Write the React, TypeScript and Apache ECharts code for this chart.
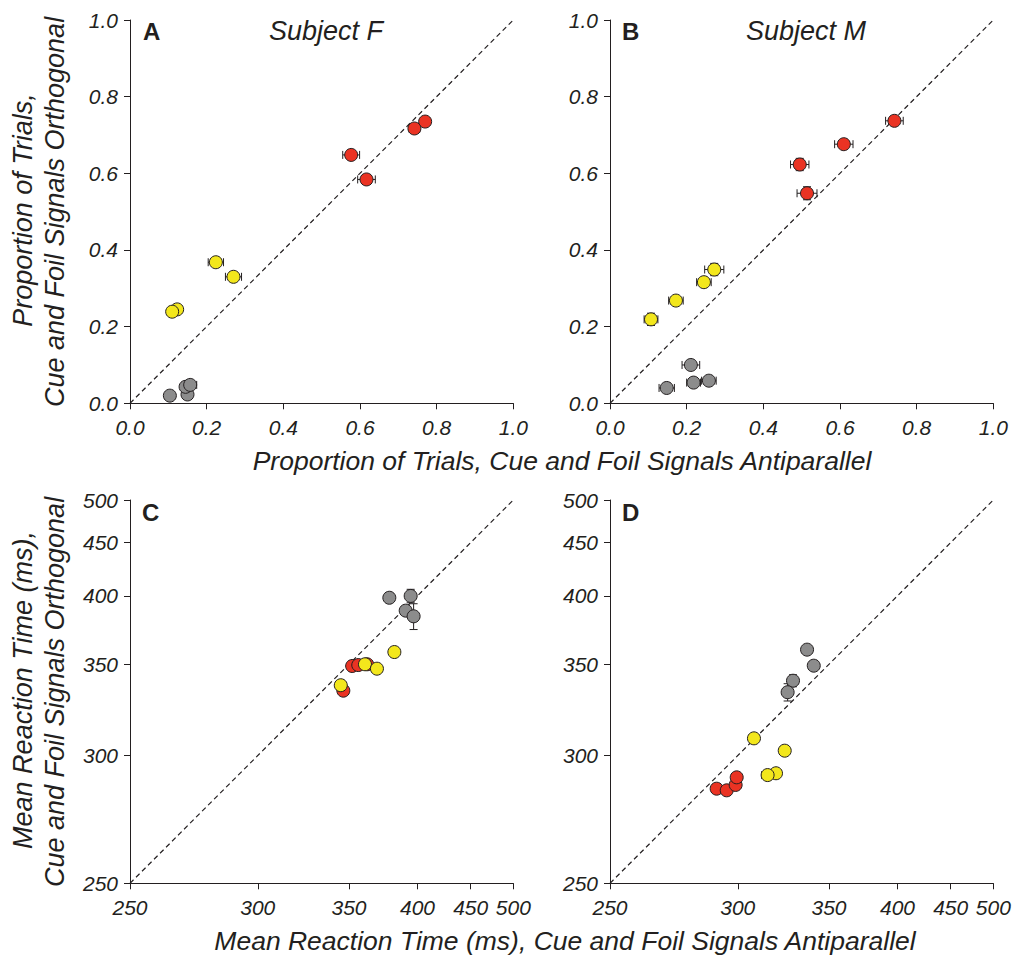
import React, { useEffect, useRef } from "react";
import * as echarts from "echarts";

// Each point: [antiparallel, orthogonal, errAntiparallel, errOrthogonal]
type Pt = [number, number, number, number];

// Proportion of trials – Subject F
const propF_gray: Pt[] = [
  [0.104, 0.020, 0, 0],
  [0.150, 0.023, 0, 0],
  [0.145, 0.043, 0, 0],
  [0.157, 0.048, 0.017, 0],
];
const propF_red: Pt[] = [
  [0.770, 0.735, 0, 0],
  [0.742, 0.717, 0.014, 0],
  [0.577, 0.648, 0.022, 0],
  [0.617, 0.584, 0.023, 0],
];
const propF_yellow: Pt[] = [
  [0.224, 0.368, 0.020, 0],
  [0.270, 0.330, 0.021, 0],
  [0.123, 0.245, 0, 0],
  [0.110, 0.239, 0, 0],
];

// Proportion of trials – Subject M
const propM_gray: Pt[] = [
  [0.211, 0.100, 0.023, 0],
  [0.258, 0.059, 0.019, 0],
  [0.218, 0.054, 0.018, 0],
  [0.148, 0.040, 0.020, 0],
];
const propM_red: Pt[] = [
  [0.742, 0.737, 0.023, 0],
  [0.610, 0.676, 0.024, 0],
  [0.495, 0.623, 0.024, 0.016],
  [0.514, 0.548, 0.026, 0.017],
];
const propM_yellow: Pt[] = [
  [0.272, 0.349, 0.025, 0.016],
  [0.245, 0.316, 0.019, 0],
  [0.172, 0.268, 0.019, 0],
  [0.107, 0.219, 0.018, 0.016],
];

// Mean reaction time (ms) – Subject F
const rtF_gray: Pt[] = [
  [377.8, 398.4, 0, 0],
  [394.4, 399.9, 0, 5.6],
  [390.4, 388.0, 0, 0],
  [396.8, 383.6, 0, 9.9],
];
const rtF_red: Pt[] = [
  [352.0, 348.9, 0, 0],
  [362.0, 350.0, 0, 0],
  [356.0, 349.5, 0, 0],
  [346.4, 333.9, 0, 0],
];
const rtF_yellow: Pt[] = [
  [360.5, 350.0, 0, 0],
  [368.8, 347.2, 0, 0],
  [381.6, 358.0, 0, 0],
  [344.8, 337.1, 0, 0],
];

// Mean reaction time (ms) – Subject M
const rtM_gray: Pt[] = [
  [336.5, 359.6, 0, 0],
  [340.5, 349.1, 0, 0],
  [328.4, 339.8, 0, 3.6],
  [325.4, 333.0, 0, 5.0],
];
const rtM_red: Pt[] = [
  [290.4, 285.2, 0, 0],
  [294.9, 284.5, 0, 0],
  [299.0, 286.8, 0, 0],
  [299.5, 290.1, 0, 0],
];
const rtM_yellow: Pt[] = [
  [307.8, 308.3, 0, 0],
  [323.8, 302.3, 0, 0],
  [319.1, 291.9, 0, 0],
  [314.7, 291.1, 3.0, 0],
];

const propTicks = [0, 0.2, 0.4, 0.6, 0.8, 1.0];
const rtTicks = [250, 300, 350, 400, 450, 500];

const GRAY = "#8c8c8c";
const RED = "#ea3323";
const YELLOW = "#f3e71c";
const INK = "#231f20";
const FONT = "'Liberation Sans', Arial, Helvetica, sans-serif";

// Reaction-time axes are drawn on a reciprocal (speed) scale
const linear = (v: number) => v;
const recip = (v: number) => -1000 / v;
const unrecip = (t: number) => -1000 / t;

const GRID_SIZE = 383.3;
const grids = [
  { left: 130, top: 20 },
  { left: 610, top: 20 },
  { left: 130, top: 500 },
  { left: 610, top: 500 },
];

export default function App() {
  const ref = useRef<HTMLDivElement>(null);

  useEffect(() => {
    if (!ref.current) return;
    const chart = echarts.init(ref.current, undefined, { renderer: "svg" });

    const labelStyle = {
      fontFamily: FONT,
      fontStyle: "italic" as const,
      fontSize: 21,
      color: INK,
    };

    const makeAxis = (i: number, dim: "x" | "y", isRt: boolean) => {
      const base: any = {
        type: "value",
        gridIndex: i,
        splitLine: { show: false },
        axisLine: { show: true, onZero: false, lineStyle: { color: INK, width: 1 } },
        axisTick: { show: true, length: 6, lineStyle: { color: INK, width: 1 } },
        axisLabel: { ...labelStyle, margin: dim === "x" ? 14 : 12 },
      };
      if (isRt) {
        const vals = rtTicks.map(recip);
        base.min = recip(rtTicks[0]);
        base.max = recip(rtTicks[rtTicks.length - 1]);
        base.axisTick.customValues = vals;
        base.axisLabel.customValues = vals;
        base.axisLabel.formatter = (t: number) => String(Math.round(unrecip(t)));
        base.axisLabel.showMinLabel = true;
        base.axisLabel.showMaxLabel = true;
      } else {
        base.min = propTicks[0];
        base.max = propTicks[propTicks.length - 1];
        base.interval = 0.2;
        base.axisLabel.formatter = (v: number) => v.toFixed(1);
      }
      return base;
    };

    const panels = [
      { groups: [propF_gray, propF_red, propF_yellow], rt: false },
      { groups: [propM_gray, propM_red, propM_yellow], rt: false },
      { groups: [rtF_gray, rtF_red, rtF_yellow], rt: true },
      { groups: [rtM_gray, rtM_red, rtM_yellow], rt: true },
    ];
    const colors = [GRAY, RED, YELLOW];

    const xAxis: any[] = [];
    const yAxis: any[] = [];
    const series: any[] = [];

    panels.forEach((p, i) => {
      xAxis.push(makeAxis(i, "x", p.rt));
      yAxis.push(makeAxis(i, "y", p.rt));
      const f = p.rt ? recip : linear;
      const lo = p.rt ? rtTicks[0] : propTicks[0];
      const hi = p.rt ? rtTicks[rtTicks.length - 1] : propTicks[propTicks.length - 1];

      // identity line
      series.push({
        type: "line",
        xAxisIndex: i,
        yAxisIndex: i,
        data: [
          [f(lo), f(lo)],
          [f(hi), f(hi)],
        ],
        symbol: "none",
        silent: true,
        lineStyle: { color: INK, width: 1.2, type: [5, 3.5] },
        z: 1,
      });

      p.groups.forEach((g, gi) => {
        // error bars
        series.push({
          type: "custom",
          xAxisIndex: i,
          yAxisIndex: i,
          coordinateSystem: "cartesian2d",
          silent: true,
          z: 2 + gi * 2,
          data: g.map(([x, y, xe, ye]) => [
            f(x), f(y), f(x - xe), f(x + xe), f(y - ye), f(y + ye), xe, ye,
          ]),
          encode: { x: 0, y: 1 },
          renderItem: (_params: any, api: any) => {
            const cx = api.value(0), cy = api.value(1);
            const children: any[] = [];
            const cap = 4;
            const st = { stroke: INK, lineWidth: 1 };
            if (api.value(6) > 0) {
              const a = api.coord([api.value(2), cy]);
              const b = api.coord([api.value(3), cy]);
              children.push({ type: "line", shape: { x1: a[0], y1: a[1], x2: b[0], y2: b[1] }, style: st });
              children.push({ type: "line", shape: { x1: a[0], y1: a[1] - cap, x2: a[0], y2: a[1] + cap }, style: st });
              children.push({ type: "line", shape: { x1: b[0], y1: b[1] - cap, x2: b[0], y2: b[1] + cap }, style: st });
            }
            if (api.value(7) > 0) {
              const a = api.coord([cx, api.value(4)]);
              const b = api.coord([cx, api.value(5)]);
              children.push({ type: "line", shape: { x1: a[0], y1: a[1], x2: b[0], y2: b[1] }, style: st });
              children.push({ type: "line", shape: { x1: a[0] - cap, y1: a[1], x2: a[0] + cap, y2: a[1] }, style: st });
              children.push({ type: "line", shape: { x1: b[0] - cap, y1: b[1], x2: b[0] + cap, y2: b[1] }, style: st });
            }
            return { type: "group", children };
          },
        });
        // markers
        series.push({
          type: "scatter",
          xAxisIndex: i,
          yAxisIndex: i,
          symbol: "circle",
          symbolSize: 13,
          z: 3 + gi * 2,
          data: g.map(([x, y]) => [f(x), f(y)]),
          itemStyle: { color: colors[gi], borderColor: INK, borderWidth: 1, opacity: 1 },
          emphasis: { disabled: true },
        });
      });
    });

    const txt = (x: number, y: number, text: string, opts: any = {}) => ({
      type: "text",
      x,
      y,
      rotation: opts.rotation || 0,
      style: {
        text,
        fontFamily: FONT,
        fontSize: opts.size || 24,
        fontStyle: opts.bold ? "normal" : "italic",
        fontWeight: opts.bold ? "bold" : "normal",
        fill: INK,
        align: opts.align || "center",
        verticalAlign: "middle",
      },
    });

    const graphic = [
      txt(143, 31, "A", { bold: true, size: 24, align: "left" }),
      txt(622, 31, "B", { bold: true, size: 24, align: "left" }),
      txt(142, 512, "C", { bold: true, size: 24, align: "left" }),
      txt(622, 512, "D", { bold: true, size: 24, align: "left" }),
      txt(326, 31, "Subject F", { size: 27 }),
      txt(806, 31, "Subject M", { size: 27 }),
      txt(562, 461, "Proportion of Trials, Cue and Foil Signals Antiparallel", { size: 26.5 }),
      txt(565, 941, "Mean Reaction Time (ms), Cue and Foil Signals Antiparallel", { size: 26.5 }),
      txt(23, 210, "Proportion of Trials,", { size: 27, rotation: Math.PI / 2 }),
      txt(55, 212, "Cue and Foil Signals Orthogonal", { size: 27, rotation: Math.PI / 2 }),
      txt(23, 690, "Mean Reaction Time (ms),", { size: 27, rotation: Math.PI / 2 }),
      txt(55, 692, "Cue and Foil Signals Orthogonal", { size: 27, rotation: Math.PI / 2 }),
    ];

    chart.setOption({
      animation: false,
      backgroundColor: "#ffffff",
      grid: grids.map((g) => ({ left: g.left, top: g.top, width: GRID_SIZE, height: GRID_SIZE })),
      xAxis,
      yAxis,
      series,
      graphic,
    });

    return () => chart.dispose();
  }, []);

  return (
    <div
      ref={ref}
      style={{ position: "fixed", left: 0, top: 0, width: 1016, height: 956, background: "#fff" }}
    />
  );
}
